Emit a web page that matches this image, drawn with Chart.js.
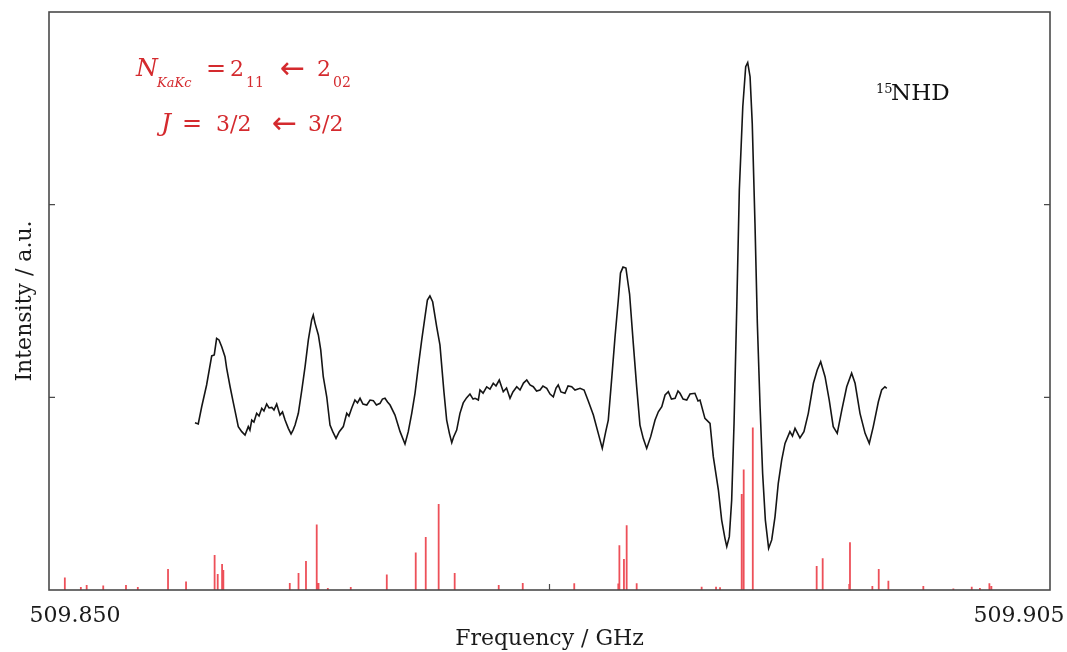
<!DOCTYPE html>
<html>
<head>
    <script src="https://cdn.jsdelivr.net/npm/chart.js@4.4.0/dist/chart.umd.min.js"></script>
    <style>
        body {
            margin: 0;
            background-color: #ffffff;
        }
        .wrapper {
            position: relative;
            width: 1067px;
            height: 652px;
        }
    </style>
</head>
<body>
    <div class="wrapper">
        <canvas id="spectrum"></canvas>
    </div>
    <script>
        // measured spectrum (GHz / arbitrary units)
        const traceFreq = [
            509.85802, 509.85820, 509.85839, 509.85866, 509.85894, 509.85908, 509.85921, 509.85934, 509.85949, 509.85967,
            509.85976, 509.85995, 509.86013, 509.86027, 509.86040, 509.86059, 509.86077, 509.86095, 509.86104, 509.86114,
            509.86126, 509.86141, 509.86154, 509.86169, 509.86181, 509.86196, 509.86209, 509.86224, 509.86236, 509.86251,
            509.86269, 509.86283, 509.86297, 509.86315, 509.86330, 509.86341, 509.86352, 509.86370, 509.86389, 509.86407,
            509.86425, 509.86443, 509.86452, 509.86462, 509.86480, 509.86493, 509.86507, 509.86526, 509.86544, 509.86559,
            509.86577, 509.86595, 509.86617, 509.86636, 509.86648, 509.86663, 509.86681, 509.86695, 509.86709, 509.86725,
            509.86746, 509.86764, 509.86782, 509.86799, 509.86819, 509.86832, 509.86846, 509.86860, 509.86874, 509.86901,
            509.86929, 509.86956, 509.86974, 509.86993, 509.87011, 509.87029, 509.87048, 509.87066, 509.87079, 509.87093,
            509.87108, 509.87130, 509.87148, 509.87170, 509.87185, 509.87200, 509.87213, 509.87223, 509.87240, 509.87258,
            509.87276, 509.87294, 509.87313, 509.87330, 509.87341, 509.87359, 509.87368, 509.87385, 509.87405, 509.87423,
            509.87441, 509.87456, 509.87474, 509.87496, 509.87514, 509.87533, 509.87549, 509.87570, 509.87588, 509.87607,
            509.87625, 509.87643, 509.87661, 509.87679, 509.87698, 509.87714, 509.87735, 509.87753, 509.87771, 509.87786,
            509.87798, 509.87813, 509.87835, 509.87852, 509.87872, 509.87890, 509.87918, 509.87940, 509.87963, 509.87991,
            509.88018, 509.88040, 509.88059, 509.88073, 509.88092, 509.88110, 509.88128, 509.88140, 509.88154, 509.88170,
            509.88179, 509.88190, 509.88211, 509.88229, 509.88247, 509.88265, 509.88284, 509.88306, 509.88330, 509.88348,
            509.88367, 509.88385, 509.88403, 509.88420, 509.88440, 509.88456, 509.88467, 509.88484, 509.88504, 509.88522,
            509.88549, 509.88566, 509.88577, 509.88604, 509.88632, 509.88650, 509.88678, 509.88696, 509.88714, 509.88724,
            509.88738, 509.88751, 509.88764, 509.88779, 509.88793, 509.88812, 509.88828, 509.88839, 509.88852, 509.88864,
            509.88879, 509.88892, 509.88907, 509.88921, 509.88936, 509.88954, 509.88971, 509.88989, 509.89007, 509.89026,
            509.89044, 509.89071, 509.89085, 509.89099, 509.89126, 509.89148, 509.89172, 509.89200, 509.89221, 509.89240,
            509.89250, 509.89264, 509.89287, 509.89309, 509.89331, 509.89356, 509.89383, 509.89410, 509.89429, 509.89456,
            509.89484, 509.89507, 509.89529, 509.89557, 509.89575, 509.89593, 509.89603
        ];
        const traceInt = [
            0.868, 0.862, 0.951, 1.064, 1.215, 1.220, 1.306, 1.298, 1.263, 1.211,
            1.152, 1.055, 0.971, 0.908, 0.848, 0.822, 0.804, 0.848, 0.830, 0.882,
            0.872, 0.917, 0.903, 0.943, 0.929, 0.965, 0.945, 0.948, 0.934, 0.965,
            0.908, 0.924, 0.882, 0.839, 0.810, 0.830, 0.856, 0.917, 1.038, 1.159,
            1.298, 1.401, 1.427, 1.384, 1.324, 1.246, 1.107, 1.003, 0.856, 0.822,
            0.787, 0.822, 0.848, 0.917, 0.903, 0.943, 0.986, 0.971, 0.995, 0.965,
            0.960, 0.986, 0.983, 0.960, 0.969, 0.991, 0.995, 0.976, 0.960, 0.908,
            0.822, 0.758, 0.822, 0.917, 1.021, 1.159, 1.298, 1.419, 1.505, 1.526,
            1.496, 1.367, 1.272, 1.028, 0.882, 0.813, 0.765, 0.794, 0.830, 0.917,
            0.971, 0.997, 1.017, 0.991, 0.995, 0.986, 1.038, 1.022, 1.054, 1.043,
            1.073, 1.059, 1.090, 1.029, 1.048, 0.995, 1.028, 1.055, 1.038, 1.074,
            1.090, 1.064, 1.055, 1.033, 1.038, 1.059, 1.047, 1.017, 1.003, 1.048,
            1.064, 1.028, 1.021, 1.059, 1.055, 1.038, 1.047, 1.038, 0.981, 0.908,
            0.813, 0.735, 0.822, 0.882, 1.100, 1.313, 1.505, 1.645, 1.676, 1.671,
            1.609, 1.536, 1.272, 1.054, 0.856, 0.787, 0.735, 0.796, 0.882, 0.925,
            0.951, 1.012, 1.029, 0.991, 0.995, 1.033, 1.021, 0.991, 0.986, 1.017,
            1.021, 0.981, 0.986, 0.891, 0.865, 0.692, 0.519, 0.363, 0.268, 0.225,
            0.277, 0.467, 0.865, 1.470, 2.076, 2.508, 2.716, 2.737, 2.664, 2.422,
            1.903, 1.384, 0.951, 0.606, 0.363, 0.216, 0.260, 0.380, 0.554, 0.675,
            0.761, 0.822, 0.799, 0.839, 0.789, 0.822, 0.917, 1.073, 1.142, 1.185,
            1.152, 1.107, 0.986, 0.848, 0.813, 0.934, 1.055, 1.125, 1.073, 0.917,
            0.813, 0.761, 0.848, 0.977, 1.038, 1.055, 1.047
        ];

        // predicted hyperfine components (stick spectrum)
        const stickFreq = [
            509.85087, 509.85175, 509.85207, 509.85298, 509.85423, 509.85488, 509.85654, 509.85753, 509.85910, 509.85927,
            509.85951, 509.85958, 509.86323, 509.86371, 509.86412, 509.86471, 509.86481, 509.86532, 509.86658, 509.86856,
            509.87015, 509.87070, 509.87141, 509.87229, 509.87471, 509.87603, 509.87886, 509.88128, 509.88134, 509.88159,
            509.88174, 509.88229, 509.88586, 509.88665, 509.88687, 509.88806, 509.88817, 509.88867, 509.89218, 509.89251,
            509.89397, 509.89401, 509.89524, 509.89559, 509.89612, 509.89804, 509.89969, 509.90070, 509.90115, 509.90167,
            509.90178
        ];
        const stickInt = [
            0.065, 0.016, 0.026, 0.023, 0.026, 0.016, 0.109, 0.044, 0.182, 0.083,
            0.135, 0.104, 0.036, 0.088, 0.151, 0.340, 0.036, 0.010, 0.016, 0.080,
            0.195, 0.275, 0.446, 0.088, 0.026, 0.036, 0.035, 0.034, 0.232, 0.161,
            0.336, 0.035, 0.017, 0.017, 0.014, 0.498, 0.626, 0.844, 0.125, 0.165,
            0.031, 0.248, 0.021, 0.109, 0.048, 0.021, 0.008, 0.017, 0.010, 0.035,
            0.021
        ];

        const xRange = [509.850, 509.905];
        const xTickLabels = ['509.850', '509.905'];
        const xInnerTicks = [509.8775];
        const yInnerTicks = [1, 2];

        const tracePoints = traceFreq.map((f, i) => ({ x: f, y: traceInt[i] }));

        // each stick is a separate segment, null breaks the line
        const stickPoints = [];
        stickFreq.forEach((f, i) => {
            stickPoints.push({ x: f, y: 0 }, { x: f, y: stickInt[i] }, { x: f, y: null });
        });

        function put(ctx, text, x, y, font, color, align) {
            ctx.font = font;
            ctx.fillStyle = color;
            ctx.textAlign = align || 'left';
            ctx.fillText(text, x, y);
        }

        // frame, inward ticks, axis labels and annotations
        const framePlugin = {
            id: 'frame',
            afterDraw(chart) {
                const ctx = chart.ctx;
                const a = chart.chartArea;
                const xs = chart.scales.x;
                const ys = chart.scales.y;
                ctx.save();

                ctx.strokeStyle = '#4a4a4a';
                ctx.lineWidth = 1.6;
                ctx.strokeRect(a.left, a.top, a.right - a.left, a.bottom - a.top);

                ctx.lineWidth = 1.2;
                ctx.beginPath();
                yInnerTicks.forEach(v => {
                    const py = ys.getPixelForValue(v);
                    ctx.moveTo(a.left, py); ctx.lineTo(a.left + 6, py);
                    ctx.moveTo(a.right, py); ctx.lineTo(a.right - 6, py);
                });
                xInnerTicks.forEach(v => {
                    const px = xs.getPixelForValue(v);
                    ctx.moveTo(px, a.bottom); ctx.lineTo(px, a.bottom - 6);
                });
                ctx.stroke();

                ctx.textBaseline = 'alphabetic';
                const tickFont = '22px "DejaVu Serif"';
                put(ctx, xTickLabels[0], xs.getPixelForValue(xRange[0]) + 26, a.bottom + 32, tickFont, '#1a1a1a', 'center');
                put(ctx, xTickLabels[1], xs.getPixelForValue(xRange[1]) - 31, a.bottom + 32, tickFont, '#1a1a1a', 'center');

                put(ctx, 'Frequency / GHz', (a.left + a.right) / 2, a.bottom + 55, tickFont, '#1a1a1a', 'center');

                ctx.save();
                ctx.translate(31, (a.top + a.bottom) / 2);
                ctx.rotate(-Math.PI / 2);
                put(ctx, 'Intensity / a.u.', 0, 0, tickFont, '#1a1a1a', 'center');
                ctx.restore();

                // molecule label
                put(ctx, '15', 876, 93, '13px "DejaVu Serif"', '#111111');
                put(ctx, 'NHD', 891, 100, '23px "DejaVu Serif"', '#111111');

                // transition label
                const red = '#d42a2e';
                const ital = 'italic 25px "DejaVu Serif"';
                const num = '22px "DejaVu Serif"';
                const sub = '14px "DejaVu Serif"';
                const sym = '24px "DejaVu Sans"';
                const arrow = '30px "DejaVu Sans"';
                put(ctx, 'N', 136, 76, ital, red);
                put(ctx, 'KaKc', 157, 87, 'italic 13px "DejaVu Serif"', red);
                put(ctx, '=', 206, 76, sym, red);
                put(ctx, '2', 230, 76, num, red);
                put(ctx, '11', 246, 87, sub, red);
                put(ctx, '\u2190', 280, 78, arrow, red);
                put(ctx, '2', 317, 76, num, red);
                put(ctx, '02', 333, 87, sub, red);

                put(ctx, 'J', 161, 131, ital, red);
                put(ctx, '=', 182, 131, sym, red);
                put(ctx, '3/2', 216, 131, num, red);
                put(ctx, '\u2190', 272, 133, arrow, red);
                put(ctx, '3/2', 308, 131, num, red);

                ctx.restore();
            }
        };

        const ctx = document.getElementById('spectrum').getContext('2d');
        const spectrumChart = new Chart(ctx, {
            type: 'scatter',
            data: {
                datasets: [{
                    label: 'Observed',
                    data: tracePoints,
                    showLine: true,
                    borderColor: '#151515',
                    borderWidth: 1.6,
                    pointRadius: 0,
                    tension: 0
                }, {
                    label: 'Predicted',
                    data: stickPoints,
                    showLine: true,
                    spanGaps: false,
                    borderColor: 'rgba(232, 36, 48, 0.8)',
                    borderWidth: 1.8,
                    pointRadius: 0,
                    tension: 0
                }]
            },
            options: {
                responsive: true,
                maintainAspectRatio: false,
                animation: false,
                layout: {
                    padding: { left: 49, right: 17, top: 12, bottom: 62 }
                },
                scales: {
                    x: {
                        type: 'linear',
                        min: xRange[0],
                        max: xRange[1],
                        display: false
                    },
                    y: {
                        min: 0,
                        max: 3,
                        display: false
                    }
                },
                plugins: {
                    legend: { display: false },
                    tooltip: { enabled: false }
                }
            },
            plugins: [framePlugin]
        });
    </script>
</body>
</html>
